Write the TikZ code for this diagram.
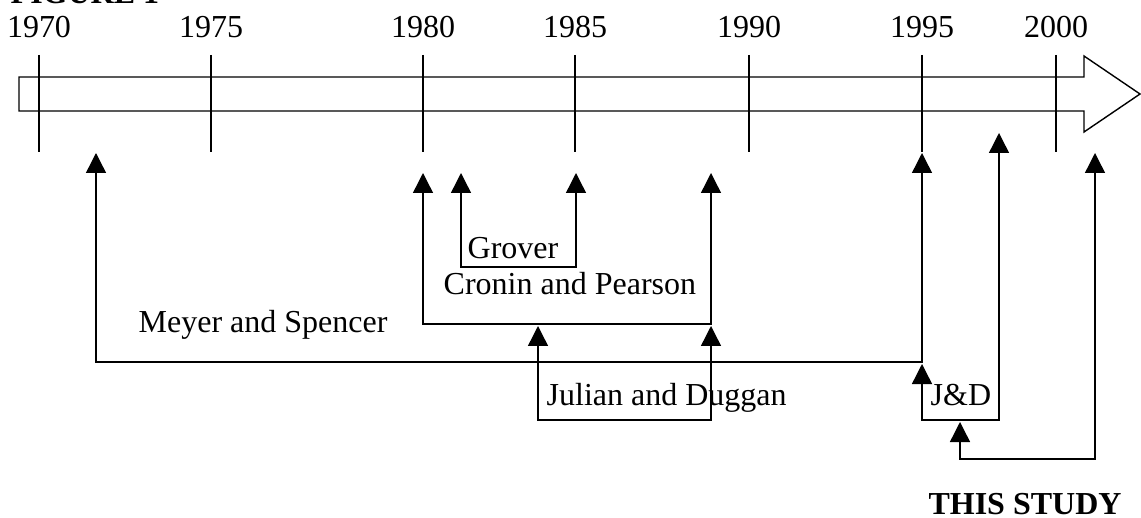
\documentclass[tikz,border=0pt]{standalone}
\usepackage{fontspec}
\setmainfont{Liberation Serif}
\usetikzlibrary{arrows.meta}
\tikzset{
    timeline/.style={
        x=0.5pt, y=-0.5pt,
        line width=0.7pt,
        % Tacche e anni sulla barra
        yeartick/.style={draw},
        yearlabel/.style={anchor=base, inner sep=0pt,
                          font=\fontsize{16}{19}\selectfont},
        % Parentesi tra due date (frecce piene)
        citation/.style={draw,
                         {Triangle[width=10pt,length=10pt]}-{Triangle[width=10pt,length=10pt]}},
        % Nomi degli autori
        authors/.style={anchor=base west, inner sep=0pt,
                        font=\fontsize{16}{19}\selectfont}
    }
}

\begin{document}
\begin{tikzpicture}[timeline]
    \useasboundingbox (0,0) rectangle (1141,518);
    \node[authors, font=\bfseries\fontsize{16}{19}\selectfont] (figtitle) at (10,4) {FIGURE 1};
    % barra del tempo
    \draw (19,77) -- (1084,77) -- (1084,56) -- (1140,94) -- (1084,132) -- (1084,111) -- (19,111) -- cycle;
    \foreach \yr/\x in {1970/39,1975/211,1980/423,1985/575,1990/749,1995/922,2000/1056}{
        \draw[yeartick] (\x,55) -- (\x,152);
        \node[yearlabel] (y\yr) at (\x,38) {\yr};
    }
    % estremi delle parentesi
    \coordinate (meyerL) at (96,153);
    \coordinate (meyerR) at (922,153);
    \coordinate (meyerB) at (500,362);
    \coordinate (croninL) at (423,173);
    \coordinate (croninR) at (711,173);
    \coordinate (croninB) at (560,324);
    \coordinate (groverL) at (461,173);
    \coordinate (groverR) at (576,173);
    \coordinate (groverB) at (520,267);
    \coordinate (julianL) at (538,326);
    \coordinate (julianR) at (711,326);
    \coordinate (julianB) at (620,420);
    \coordinate (jdL) at (922,364);
    \coordinate (jdR) at (999,133);
    \coordinate (jdB) at (960,420);
    \coordinate (studyL) at (960,422);
    \coordinate (studyR) at (1095,153);
    \coordinate (studyB) at (1030,459);
    \draw[citation] (meyerL) |- (meyerB) -| (meyerR);
    \draw[citation] (croninL) |- (croninB) -| (croninR);
    \draw[citation] (groverL) |- (groverB) -| (groverR);
    \draw[citation] (julianL) |- (julianB) -| (julianR);
    \draw[citation] (jdL) |- (jdB) -| (jdR);
    \draw[citation] (studyL) |- (studyB) -| (studyR);
    % etichette
    \node[authors] (grover) at (467,259) {Grover};
    \node[authors] (cronin) at (443,295) {Cronin and Pearson};
    \node[authors] (meyer) at (138,333) {Meyer and Spencer};
    \node[authors] (julian) at (546,405) {Julian and Duggan};
    \node[authors] (jd) at (930,406) {J\&D};
    \node[authors, anchor=base, font=\bfseries\fontsize{16}{19}\selectfont] (study) at (1025,514) {THIS STUDY};
\end{tikzpicture}
\end{document}
